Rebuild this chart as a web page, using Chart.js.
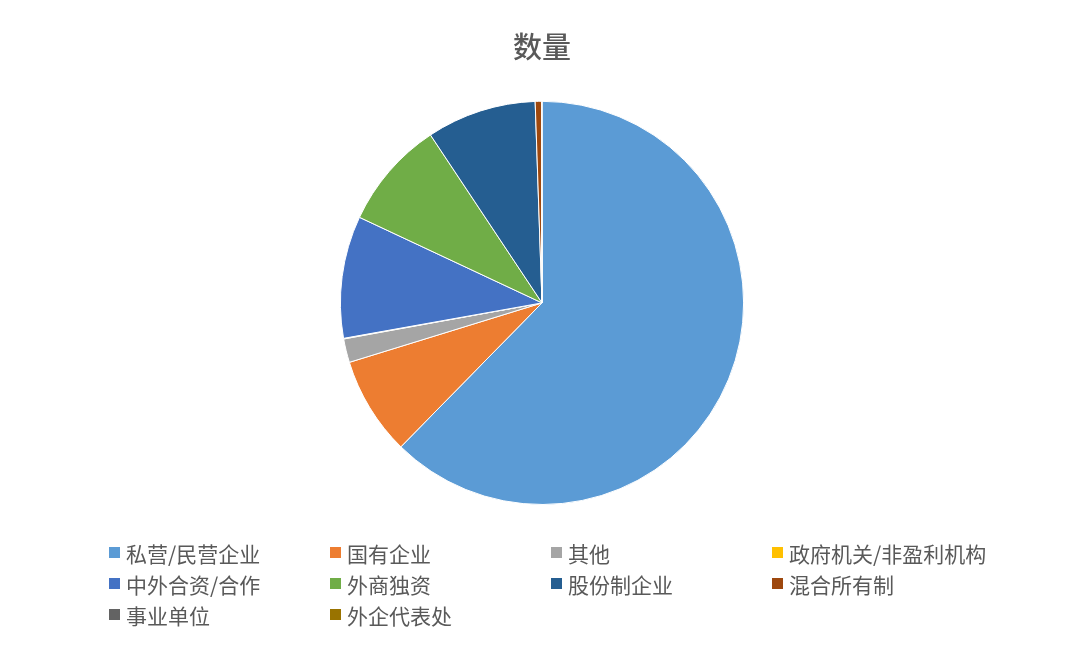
<!DOCTYPE html>
<html lang="zh">
<head>
<meta charset="utf-8">
<title>数量</title>
<script src="https://cdn.jsdelivr.net/npm/chart.js@4.4.1/dist/chart.umd.min.js"></script>
<style>
    html, body { margin: 0; padding: 0; background: #fff; }
    .wrap { position: relative; width: 1080px; height: 654px; }
    #graficoPizza { position: absolute; left: 0; top: 0; }
    .legenda {
        position: absolute; left: 109px; top: 537px;
        display: grid; grid-template-columns: 221px 221px 221px 221px;
        grid-auto-rows: 31px;
        font-family: "Noto Sans CJK SC", "Noto Sans", sans-serif;
        font-size: 21px; color: #595959;
    }
    .legenda .item { display: flex; align-items: center; white-space: nowrap; }
    .legenda .caixa { width: 11px; height: 11px; margin-right: 6px; }
</style>
</head>
<body>
<div class="wrap">
    <canvas id="graficoPizza" width="1080" height="654"></canvas>
    <div class="legenda" id="legenda"></div>
</div>
<script>
const categorias = ["私营/民营企业", "国有企业", "其他", "政府机关/非盈利机构", "中外合资/合作", "外商独资", "股份制企业", "混合所有制", "事业单位", "外企代表处"];
const quantidades = [62.4, 7.9, 1.9, 0.05, 9.8, 8.7, 8.8, 0.5, 0.02, 0.02];
const cores = ["#5B9BD5", "#ED7D31", "#A5A5A5", "#FFC000", "#4472C4", "#70AD47", "#255E91", "#9E480E", "#636363", "#997300"];

const ctx = document.getElementById("graficoPizza");

const grafico = new Chart(ctx, {
    type: "pie",
    data: {
        labels: categorias,
        datasets: [{
            label: "数量",
            data: quantidades,
            backgroundColor: cores,
            borderColor: "#ffffff",
            borderWidth: 1
        }]
    },
    options: {
        responsive: false,
        animation: false,
        layout: { padding: { top: 0, bottom: 149, left: 4, right: 0 } },
        plugins: {
            legend: { display: false },
            tooltip: { enabled: false },
            title: {
                display: true,
                text: "数量",
                color: "#595959",
                font: { family: "'Noto Sans CJK SC', sans-serif", size: 29, weight: "500" },
                padding: { top: 30, bottom: 36 }
            }
        }
    }
});

// legenda em grade, montada a partir dos dados do gráfico
const legenda = document.getElementById("legenda");
grafico.data.labels.forEach((nome, i) => {
    const item = `<div class="item"><span class="caixa" style="background:${cores[i]}"></span>${nome}</div>`;
    legenda.insertAdjacentHTML("beforeend", item);
});
</script>
</body>
</html>
